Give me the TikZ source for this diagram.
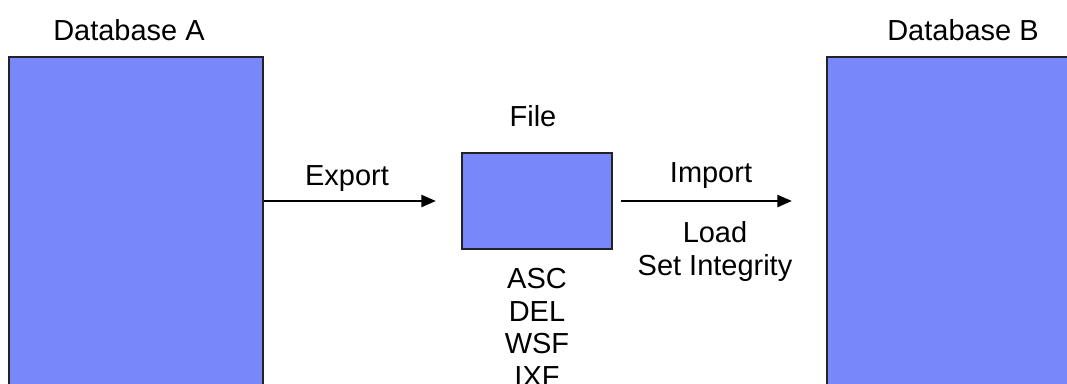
\documentclass[tikz,border=0pt]{standalone}
\usepackage{fontspec}
\setmainfont{Liberation Sans}
\usetikzlibrary{arrows.meta}
\definecolor{boxblue}{RGB}{120,136,250}
\definecolor{edgegray}{RGB}{35,35,35}
\begin{document}
\begin{tikzpicture}[x=0.025cm, y=-0.025cm,
  box/.style = {draw=edgegray, line width=1.6pt, fill=boxblue, inner sep=0pt},
  lbl/.style = {inner sep=0pt, anchor=base, align=center,
    font=\fontsize{20.6pt}{23pt}\selectfont},
  arr/.style = {line width=1.4pt, -{Triangle[length=0.36cm, width=0.3cm]}}]
\useasboundingbox (0,0) rectangle (1067,383);
\clip (0,0) rectangle (1067,383);
\node[box, minimum width=254*0.025cm, minimum height=340*0.025cm] (dbA) at (136,227) {};
\node[box, minimum width=260*0.025cm, minimum height=340*0.025cm] (dbB) at (957,227) {};
\node[box, minimum width=150*0.025cm, minimum height=96*0.025cm] (file) at (537,201) {};
\node[lbl] (dbAlbl) at (129,40) {Database A};
\node[lbl] (dbBlbl) at (963,40) {Database B};
\node[lbl] (filelbl) at (533,126) {File};
\node[lbl] (exportlbl) at (347,185) {Export};
\node[lbl] (importlbl) at (711,182) {Import};
\node[lbl] (loadlbl) at (715,275) {Load\\Set Integrity};
\node[lbl] (fmtlbl) at (537,386) {ASC\\DEL\\WSF\\IXF};
\draw[arr, shorten >=0.625cm] (dbA.east |- file) -- (file.west);
\draw[arr, shorten <=0.2cm, shorten >=0.85cm] (file.east) -- (dbB.west |- file);
\end{tikzpicture}
\end{document}
